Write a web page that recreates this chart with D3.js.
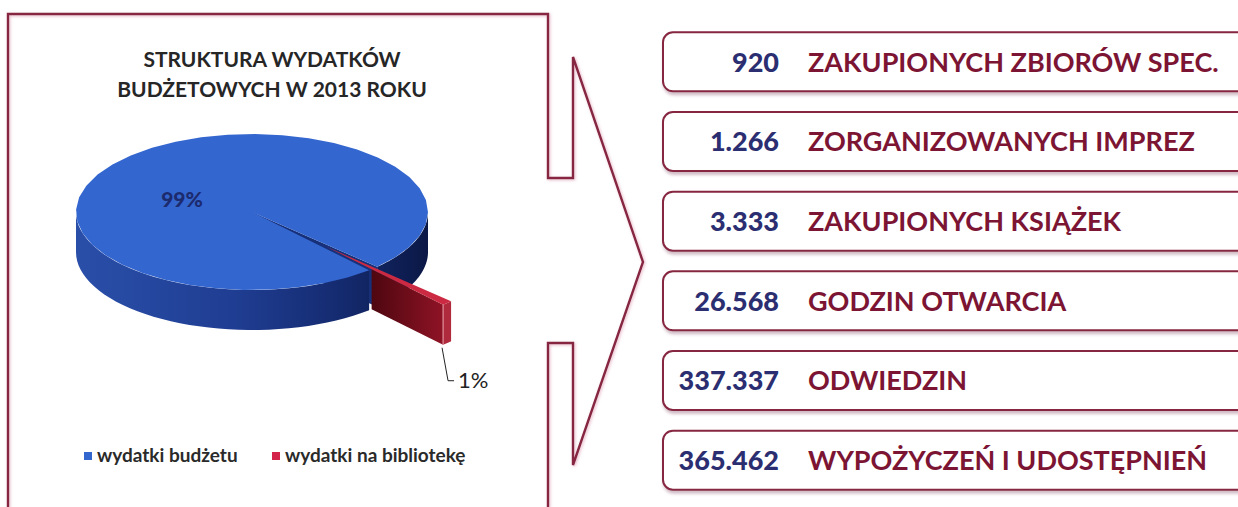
<!DOCTYPE html>
<html>
<head>
<meta charset="utf-8">
<script src="https://cdn.jsdelivr.net/npm/d3@7"></script>
<style>
  html, body { margin: 0; padding: 0; background: #fff; }
  svg { display: block; }
  text { font-family: Lato, 'Open Sans', sans-serif; }
</style>
</head>
<body>
<div id="chart"></div>
<script>
// data
const shares = [99, 1];
const shareNames = ['wydatki budżetu', 'wydatki na bibliotekę'];
const shareLabels = ['99%', '1%'];
const shareColors = ['#3466cf', '#d4244a'];
const titleLines = ['STRUKTURA WYDATKÓW', 'BUDŻETOWYCH W 2013 ROKU'];
const statValues = [920, 1266, 3333, 26568, 337337, 365462];
const statLabels = [
  'ZAKUPIONYCH ZBIORÓW SPEC.',
  'ZORGANIZOWANYCH IMPREZ',
  'ZAKUPIONYCH KSIĄŻEK',
  'GODZIN OTWARCIA',
  'ODWIEDZIN',
  'WYPOŻYCZEŃ I UDOSTĘPNIEŃ'
];

const W = 1238, H = 507;
const maroon = '#862641';
const plFmt = d3.formatLocale({ decimal: ',', thousands: '.', grouping: [3], currency: ['', ''] }).format(',d');

const svg = d3.select('#chart').append('svg')
  .attr('width', W).attr('height', H)
  .attr('viewBox', `0 0 ${W} ${H}`);

const defs = svg.append('defs');
const sh = defs.append('filter').attr('id', 'soft').attr('x', '-5%').attr('y', '-10%').attr('width', '110%').attr('height', '130%');
sh.append('feDropShadow').attr('dx', 1).attr('dy', 3).attr('stdDeviation', 1.6)
  .attr('flood-color', '#9a6a80').attr('flood-opacity', 0.45);
const glow = defs.append('filter').attr('id', 'glow').attr('x', '-5%').attr('y', '-5%').attr('width', '110%').attr('height', '110%');
glow.append('feDropShadow').attr('dx', 1).attr('dy', 1).attr('stdDeviation', 1.4)
  .attr('flood-color', '#d27a9a').attr('flood-opacity', 0.55);

// ---- frame with arrow ----
const fr = d3.path();
fr.moveTo(8, H); fr.lineTo(8, 14); fr.lineTo(548, 14); fr.lineTo(548, 178);
fr.lineTo(573, 178); fr.lineTo(573, 57); fr.lineTo(643, 262); fr.lineTo(573, 465);
fr.lineTo(573, 343); fr.lineTo(548, 343); fr.lineTo(548, H);
svg.append('path').attr('d', fr.toString())
  .attr('fill', 'none').attr('stroke', maroon).attr('stroke-width', 2.4)
  .attr('stroke-linejoin', 'miter').attr('filter', 'url(#glow)');

// ---- title ----
svg.append('g').selectAll('text').data(titleLines).join('text')
  .attr('x', 272).attr('y', (d, i) => 67 + i * 30)
  .attr('text-anchor', 'middle')
  .attr('fill', '#262626').style('font-size', '21px').style('font-weight', 700)
  .text(d => d);

// ---- 3d pie ----
const cx = 252, cy = 212, rx = 176, ry = 78, depth = 40, explode = 0.61;
const libMid = 2.382; // d3 angle of the small slice centre
const base = d3.pie().sort(null)(shares);
const rot = libMid - (base[1].startAngle + base[1].endAngle) / 2;
const arcs = d3.pie().sort(null).startAngle(rot).endAngle(rot + 2 * Math.PI)(shares);
const toT = a => a - Math.PI / 2;
const P = (u, v, z) => [cx + rx * u, cy + ry * v + depth * z];
const rim = (o, t, z) => P(o[0] + Math.cos(t), o[1] + Math.sin(t), z);
const arcPts = (o, t0, t1, z) => d3.range(0, 41).map(i => rim(o, t0 + (t1 - t0) * i / 40, z));
const line = d3.line();

const sideGrad = defs.append('linearGradient').attr('id', 'side').attr('gradientUnits', 'userSpaceOnUse')
  .attr('x1', cx - rx).attr('x2', cx + rx).attr('y1', 0).attr('y2', 0);
[['0%', '#2a4fa9'], ['45%', '#1f3d92'], ['75%', '#152b70'], ['100%', '#0b1846']]
  .forEach(([o, c]) => sideGrad.append('stop').attr('offset', o).attr('stop-color', c));
const redGrad = defs.append('linearGradient').attr('id', 'redface').attr('x1', 0).attr('x2', 1).attr('y1', 0).attr('y2', 0);
[['0%', '#4e0710'], ['100%', '#8e1325']]
  .forEach(([o, c]) => redGrad.append('stop').attr('offset', o).attr('stop-color', c));

const pieG = svg.append('g');
const big = arcs[0], small = arcs[1];
const b0 = toT(big.startAngle), b1 = toT(big.endAngle);
const s0 = toT(small.startAngle), s1 = toT(small.endAngle), sm = (s0 + s1) / 2;
const O = [0, 0];
const so = [explode * Math.cos(sm), explode * Math.sin(sm)];

// big slice: end face seen through the gap
pieG.append('path')
  .attr('d', line([P(0, 0, 0), rim(O, b1, 0), rim(O, b1, 1), P(0, 0, 1)]) + 'Z')
  .attr('fill', '#17307a');

// big slice: front wall
for (let k = -2; k <= 1; k++) {
  const lo = Math.max(b0, k * 2 * Math.PI), hi = Math.min(b1, k * 2 * Math.PI + Math.PI);
  if (hi <= lo) continue;
  const pts = arcPts(O, lo, hi, 0).concat(arcPts(O, hi, lo, 1));
  pieG.append('path').attr('d', line(pts) + 'Z').attr('fill', 'url(#side)');
}

// big slice: top
pieG.append('path')
  .attr('d', line([P(0, 0, 0)].concat(arcPts(O, b0, b1, 0))) + 'Z')
  .attr('fill', shareColors[0]);

// small slice (exploded): top, visible radial face, rim
const u = [Math.cos(s1), Math.sin(s1)];
const ou = so[0] * u[0] + so[1] * u[1];
const rhoMin = -ou + Math.sqrt(ou * ou - (so[0] * so[0] + so[1] * so[1]) + 1);
const F = (rho, z) => P(so[0] + rho * u[0], so[1] + rho * u[1], z);
pieG.append('path')
  .attr('d', line([F(rhoMin, 0), F(1, 0), F(1, 1), F(rhoMin, 1)]) + 'Z')
  .attr('fill', 'url(#redface)');
pieG.append('path')
  .attr('d', line(arcPts(so, s0, s1, 0).concat(arcPts(so, s1, s0, 1))) + 'Z')
  .attr('fill', '#b02a3e');
pieG.append('path')
  .attr('d', line([P(so[0], so[1], 0)].concat(arcPts(so, s0, s1, 0))) + 'Z')
  .attr('fill', '#cc2a42');
pieG.append('line')
  .attr('x1', F(1, 0)[0]).attr('y1', F(1, 0)[1]).attr('x2', F(1, 1)[0]).attr('y2', F(1, 1)[1])
  .attr('stroke', '#e9a3ae').attr('stroke-width', 1);

// labels
pieG.append('text').attr('x', 182).attr('y', 207).attr('text-anchor', 'middle')
  .attr('fill', '#1c2a6e').style('font-size', '21px').style('font-weight', 900)
  .text(shareLabels[0]);
const lp = F(1, 1);
pieG.append('path')
  .attr('d', line([[lp[0] - 1, lp[1] + 3], [lp[0] + 5, lp[1] + 36], [lp[0] + 11, lp[1] + 36]]))
  .attr('fill', 'none').attr('stroke', '#222').attr('stroke-width', 1);
pieG.append('text').attr('x', lp[0] + 15).attr('y', lp[1] + 43)
  .attr('fill', '#222').style('font-size', '22px')
  .text(shareLabels[1]);

// legend
const leg = svg.append('g').selectAll('g').data(shareNames).join('g')
  .attr('transform', (d, i) => `translate(${[84, 272][i]},452)`);
leg.append('rect').attr('width', 8).attr('height', 8).attr('fill', (d, i) => shareColors[i]);
leg.append('text').attr('x', 13).attr('y', 10)
  .attr('fill', '#2a2a2a').style('font-size', '19px').style('font-weight', 700)
  .text(d => d);

// ---- stat boxes ----
const y = d3.scaleBand().domain(statLabels).range([22, 500]).paddingInner(0.26).paddingOuter(0.13);
const boxes = svg.append('g').selectAll('g').data(statLabels).join('g')
  .attr('transform', d => `translate(0,${y(d)})`);
boxes.append('rect')
  .attr('x', 663).attr('width', 600).attr('height', y.bandwidth())
  .attr('rx', 10).attr('ry', 10)
  .attr('fill', '#fff').attr('stroke', maroon).attr('stroke-width', 2)
  .attr('filter', 'url(#soft)');
boxes.append('text')
  .attr('x', 779).attr('y', y.bandwidth() / 2 + 10).attr('text-anchor', 'end')
  .attr('fill', '#2b2e70').style('font-size', '27px').style('font-weight', 900)
  .text((d, i) => plFmt(statValues[i]));
boxes.append('text')
  .attr('x', 808).attr('y', y.bandwidth() / 2 + 10)
  .attr('fill', '#7c1433').style('font-size', '27px').style('font-weight', 700)
  .text(d => d);
</script>
</body>
</html>
